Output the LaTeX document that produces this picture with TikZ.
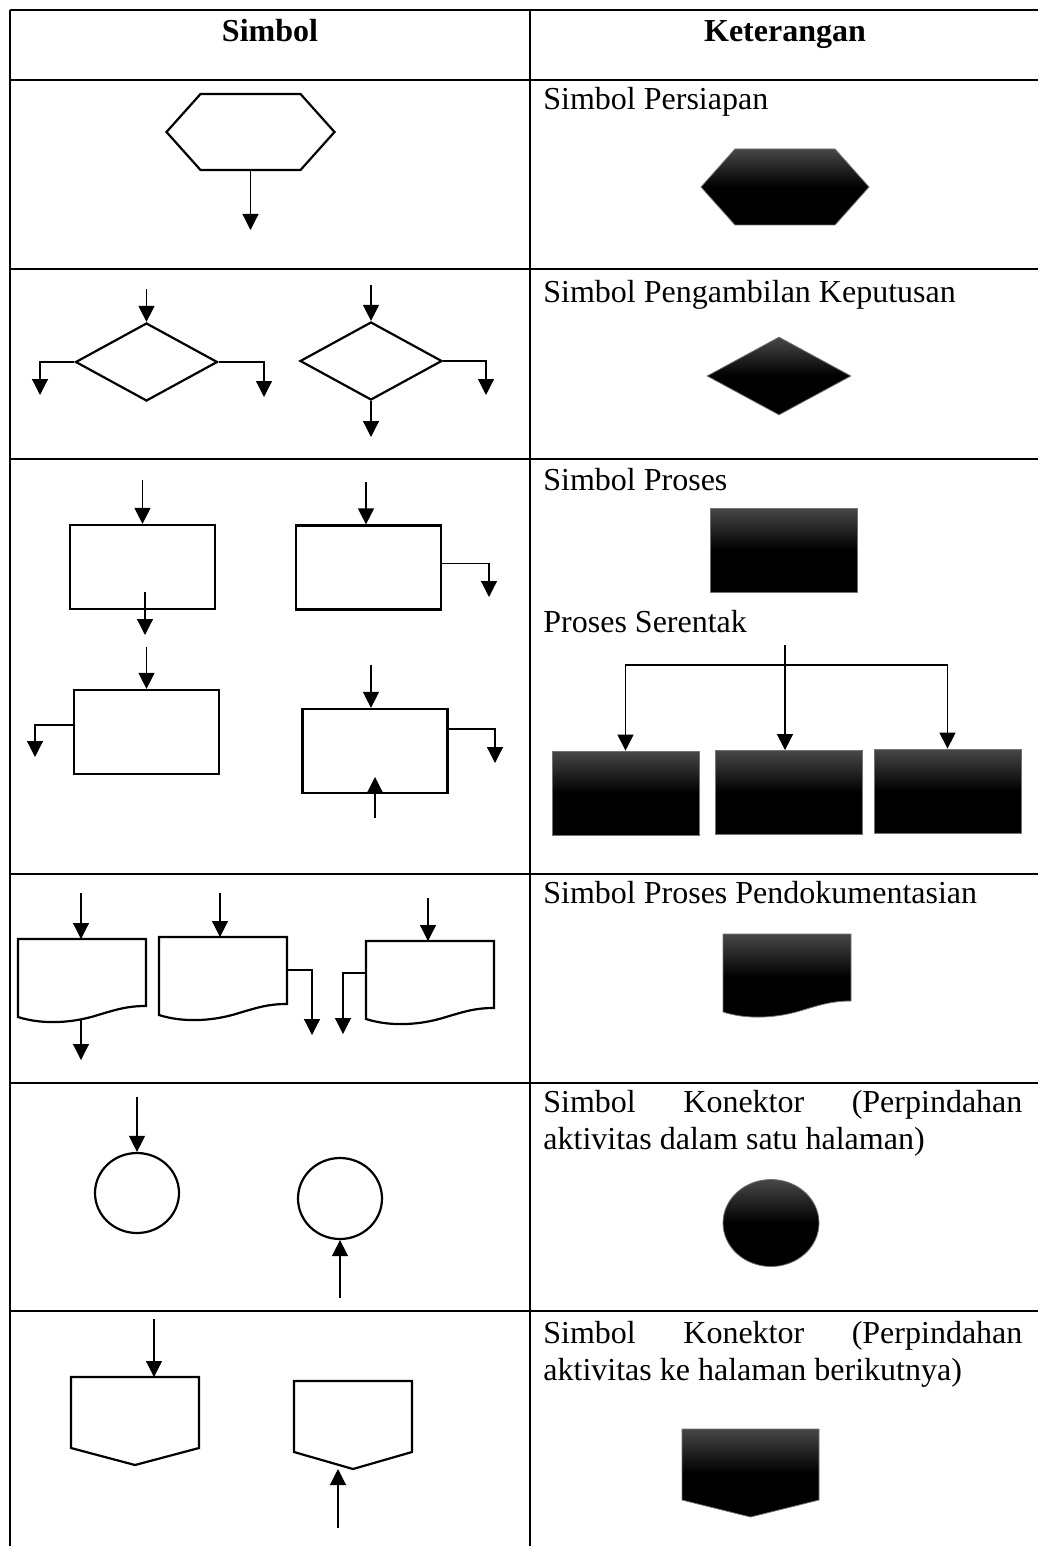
\documentclass[tikz,border=0pt]{standalone}
\usepackage{fontspec}
\setmainfont{Liberation Serif}
\usetikzlibrary{arrows.meta, shapes.geometric}
\hyphenpenalty=10000
\tolerance=10000

\tikzset{
  grid/.style={line width=1pt},
  outline/.style={draw, line width=1.1pt, fill=white},
  blackfill/.style={draw=black!55, line width=0.4pt, top color=black!72, bottom color=black, middle color=black},
  flow/.style={-{Triangle[width=8pt,length=8pt]}, line width=0.6pt},
  head/.style={anchor=base, inner sep=0pt, font=\fontsize{16pt}{18.5pt}\selectfont\bfseries},
  desc/.style={anchor=base west, inner sep=0pt, font=\fontsize{16pt}{18.5pt}\selectfont},
  descpar/.style={desc, text width=239.5pt, align=justify},
  procbox/.style={rectangle, minimum width=72.5pt, minimum height=42pt, inner sep=0pt},
  decision/.style={diamond, minimum width=71pt, minimum height=39pt, inner sep=0pt},
  connector/.style={ellipse, minimum width=42pt, minimum height=40pt, inner sep=0pt},
  pics/prep/.style={code={
    \path[#1] (-84,0) -- (-50,-38) -- (50,-38) -- (84,0) -- (50,38) -- (-50,38) -- cycle;
    \coordinate (-s) at (0,38);
  }},
  pics/doc/.style={code={
    \path[#1] (0,0) -- (128,0) -- (128,67) .. controls (110,67) and (100,70) .. (80,76)
      .. controls (55,84) and (25,86) .. (0,78) -- cycle;
    \coordinate (-n) at (64,0);
    \coordinate (-e) at (128,33);
    \coordinate (-w) at (0,32);
    \coordinate (-s) at (63,80);
  }},
  pics/offpage/.style 2 args={code={
    \path[#2] (0,0) -- (#1,0) -- (#1,71) -- ({#1/2},88) -- (0,71) -- cycle;
    \coordinate (-n) at ({#1/2},0);
    \coordinate (-s) at ({#1/2},88);
  }},
}

\begin{document}
\begin{tikzpicture}[x=0.5pt, y=-0.5pt]
  \useasboundingbox (0,0) rectangle (1038,1546);

  % table
  \foreach \y in {10,80,269,459,874,1083,1311}
    \draw[grid] (10,\y) -- (1038,\y);
  \foreach \x in {10,530}
    \draw[grid] (\x,10) -- (\x,1546);

  \node[head] (hsym) at (270,42) {Simbol};
  \node[head] (hket) at (785,42) {Keterangan};

  % persiapan
  \pic (hx1) at (250.5,132) {prep=outline};
  \coordinate (hx1out) at (250.5,230);
  \draw[flow] (hx1-s) -- (hx1out);
  \node[desc] (t1) at (543,110) {Simbol Persiapan};
  \pic (hx2) at (785,187) {prep=blackfill};

  % keputusan
  \node[decision, outline] (d1) at (146.5,362) {};
  \node[decision, outline] (d2) at (371,361) {};
  \coordinate (d1in) at (146.5,289);
  \coordinate (d1l) at (40,395);
  \coordinate (d1r) at (264,397);
  \draw[flow] (d1in) -- (d1.north);
  \draw[flow] (d1.west) -| (d1l);
  \draw[flow] (d1.east) -| (d1r);
  \coordinate (d2in) at (371,285);
  \coordinate (d2r) at (486,395);
  \coordinate (d2out) at (371,437);
  \draw[flow] (d2in) -- (d2.north);
  \draw[flow] (d2.east) -| (d2r);
  \draw[flow] (d2.south) -- (d2out);
  \node[desc] (t2) at (543,302) {Simbol Pengambilan Keputusan};
  \node[decision, blackfill, minimum width=72pt] (d3) at (779,376) {};

  % proses
  \node[procbox, outline] (p1) at (142.5,567) {};
  \node[procbox, outline] (p2) at (368.5,567.5) {};
  \node[procbox, outline] (p3) at (146.5,732) {};
  \node[procbox, outline] (p4) at (375,751) {};
  \coordinate (p1in) at (142.5,480);
  \coordinate (p1a) at (145,592);
  \coordinate (p1out) at (145,635);
  \draw[flow] (p1in) -- (p1.north);
  \draw[flow] (p1a) -- (p1out);
  \coordinate (p2in) at (366,482);
  \coordinate (p2r) at (489,597);
  \draw[flow] (p2in) -- (p2in |- p2.north);
  \draw[flow] ([yshift=2pt]p2.east) -| (p2r);
  \coordinate (p3in) at (146.5,647);
  \coordinate (p3l) at (35,757);
  \draw[flow] (p3in) -- (p3.north);
  \draw[flow] ([yshift=3.5pt]p3.west) -| (p3l);
  \coordinate (p4in) at (371,665);
  \coordinate (p4r) at (495,763);
  \coordinate (p4up) at (375,818);
  \coordinate (p4tip) at (375,777);
  \draw[flow] (p4in) -- (p4in |- p4.north);
  \draw[flow] ([yshift=11pt]p4.east) -| (p4r);
  \draw[flow] (p4up) -- (p4tip);

  \node[desc] (t3) at (543,490) {Simbol Proses};
  \node[procbox, blackfill, minimum width=73.5pt] (b0) at (783.5,550) {};
  \node[desc] (t3b) at (543,632) {Proses Serentak};
  \node[procbox, blackfill, minimum width=73.5pt] (b1) at (625.5,793) {};
  \node[procbox, blackfill, minimum width=73.5pt] (b2) at (788.5,792.5) {};
  \node[procbox, blackfill, minimum width=73.5pt] (b3) at (947.5,791) {};
  \coordinate (fork) at (785,645);
  \coordinate (split) at (785,665);
  \draw[flow] (fork) -- (fork |- b2.north);
  \draw[flow] (split) -| (b1.north);
  \draw[flow] (split) -| (b3.north);

  % pendokumentasian
  \pic (c1) at (18,939) {doc=outline};
  \pic (c2) at (159,937) {doc=outline};
  \pic (c3) at (366,941) {doc=outline};
  \coordinate (c1in) at (81,893);
  \coordinate (c1out) at (81,1060);
  \draw[flow] (c1in) -- (c1in |- c1-n);
  \draw[flow] (c1-s) -- (c1out);
  \coordinate (c2in) at (220,893);
  \coordinate (c2r) at (312,1035);
  \draw[flow] (c2in) -- (c2in |- c2-n);
  \draw[flow] (c2-e) -| (c2r);
  \coordinate (c3in) at (428,898);
  \coordinate (c3l) at (343,1034);
  \draw[flow] (c3in) -- (c3in |- c3-n);
  \draw[flow] (c3-w) -| (c3l);
  \node[desc] (t4) at (543,903) {Simbol Proses Pendokumentasian};
  \pic (c4) at (723,934) {doc=blackfill};

  % konektor satu halaman
  \node[connector, outline] (k1) at (137,1193) {};
  \node[connector, outline, minimum height=40.5pt] (k2) at (340,1198.5) {};
  \coordinate (k1in) at (137,1097);
  \coordinate (k2in) at (340,1298);
  \draw[flow] (k1in) -- (k1.north);
  \draw[flow] (k2in) -- (k2.south);
  \node[descpar] (t5) at (543,1112) {Simbol Konektor (Perpindahan aktivitas dalam satu halaman)};
  \node[connector, blackfill, minimum width=48pt, minimum height=43.5pt] (k3) at (771,1223) {};

  % konektor halaman berikutnya
  \pic (o1) at (71,1377) {offpage={128}{outline}};
  \pic (o2) at (294,1381) {offpage={118}{outline}};
  \coordinate (o1in) at (154,1319);
  \coordinate (o2in) at (338,1528);
  \draw[flow] (o1in) -- (o1in |- o1-n);
  \draw[flow] (o2in) -- (o2in |- o2-s);
  \node[descpar] (t6) at (543,1343) {Simbol Konektor (Perpindahan aktivitas ke halaman berikutnya)};
  \pic (o3) at (682,1429) {offpage={137}{blackfill}};
\end{tikzpicture}
\end{document}
